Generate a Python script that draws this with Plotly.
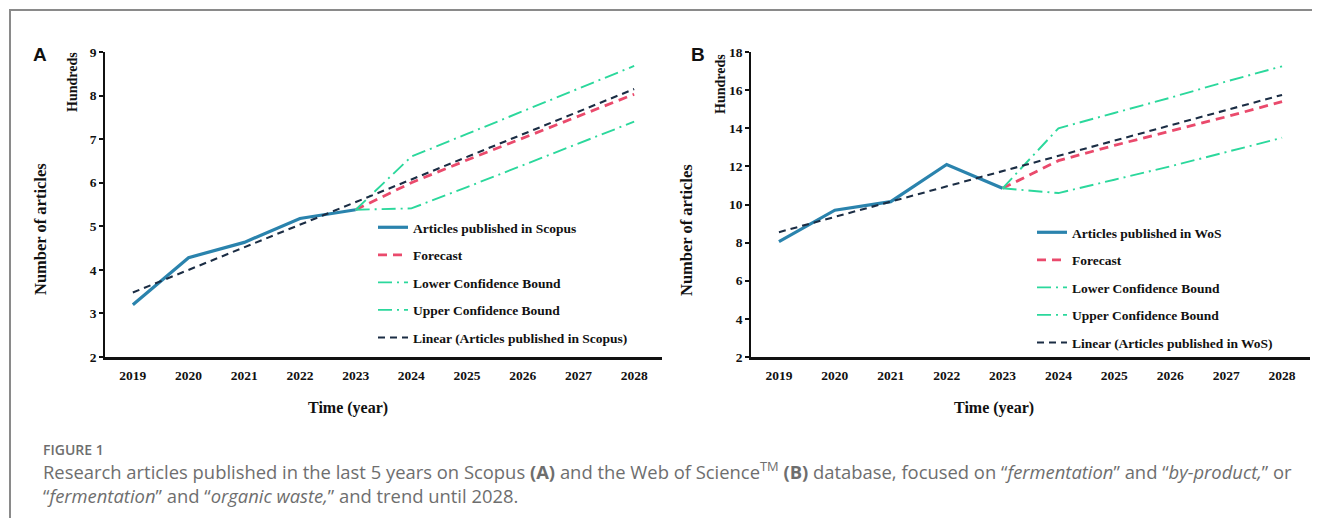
import plotly.graph_objects as go

years = [2019, 2020, 2021, 2022, 2023, 2024, 2025, 2026, 2027, 2028]
hist_years = [2019, 2020, 2021, 2022, 2023]
fc_years = [2023, 2024, 2025, 2026, 2027, 2028]

# Panel A - Scopus (hundreds of articles)
scopus_actual = [3.20, 4.28, 4.63, 5.18, 5.38]
scopus_forecast = [5.38, 6.00, 6.52, 7.02, 7.53, 8.03]
scopus_lower = [5.38, 5.41, 5.90, 6.40, 6.90, 7.40]
scopus_upper = [5.38, 6.60, 7.12, 7.64, 8.16, 8.68]
scopus_linear = [3.48, 4.00, 4.52, 5.04, 5.56, 6.08, 6.60, 7.11, 7.63, 8.15]

# Panel B - WoS (hundreds of articles)
wos_actual = [8.05, 9.70, 10.15, 12.10, 10.85]
wos_forecast = [10.85, 12.30, 13.10, 13.85, 14.60, 15.40]
wos_lower = [10.85, 10.60, 11.30, 12.00, 12.75, 13.50]
wos_upper = [10.85, 14.00, 14.80, 15.60, 16.45, 17.25]
wos_linear = [8.55, 9.35, 10.15, 10.95, 11.75, 12.55, 13.35, 14.15, 14.95, 15.75]

OFF = 8  # default page body margin
W, H = 1320 - 2 * OFF, 526 - 2 * OFF
BLUE = "#2a83ad"
PINK = "#ea4a6c"
GREEN = "#2bd89c"
NAVY = "#1b2d44"
SERIF = "Liberation Serif"
CAPFONT = "Open Sans"

def px(x):
    return (x - OFF) / W

def py(y):
    return 1 - (y - OFF) / H

fig = go.Figure()

def add_panel(xa, ya, leg, src, actual, fc, lo, up, lin):
    fig.add_trace(go.Scatter(x=hist_years, y=actual, mode="lines", name=f"Articles published in {src}",
                             line=dict(color=BLUE, width=3.2), xaxis=xa, yaxis=ya, legend=leg, legendgroup=leg + "1"))
    fig.add_trace(go.Scatter(x=fc_years, y=fc, mode="lines", name="Forecast",
                             line=dict(color=PINK, width=2.8, dash="9px,6px"), xaxis=xa, yaxis=ya, legend=leg, legendgroup=leg + "2"))
    fig.add_trace(go.Scatter(x=fc_years, y=lo, mode="lines", name="Lower Confidence Bound",
                             line=dict(color=GREEN, width=1.9, dash="14px,5px,2px,5px"), xaxis=xa, yaxis=ya, legend=leg, legendgroup=leg + "3"))
    fig.add_trace(go.Scatter(x=fc_years, y=up, mode="lines", name="Upper Confidence Bound",
                             line=dict(color=GREEN, width=1.9, dash="14px,5px,2px,5px"), xaxis=xa, yaxis=ya, legend=leg, legendgroup=leg + "4"))
    fig.add_trace(go.Scatter(x=years, y=lin, mode="lines", name=f"Linear (Articles published in {src})",
                             line=dict(color=NAVY, width=2.1, dash="7px,5px"), xaxis=xa, yaxis=ya, legend=leg, legendgroup=leg + "5"))

add_panel("x", "y", "legend", "Scopus", scopus_actual, scopus_forecast, scopus_lower, scopus_upper, scopus_linear)
add_panel("x2", "y2", "legend2", "WoS", wos_actual, wos_forecast, wos_lower, wos_upper, wos_linear)

tickfont = dict(family=SERIF, size=13.5, color="#111", weight="bold")
xcommon = dict(range=[2018.5, 2028.5], tickmode="array", tickvals=years, ticktext=[str(y) for y in years],
               showline=True, linecolor="#111", linewidth=2.5, ticks="", showgrid=False, zeroline=False,
               tickfont=tickfont, ticklabelstandoff=4, fixedrange=True, automargin=False)
ycommon = dict(showline=True, linecolor="#111", linewidth=1.8, ticks="outside", ticklen=4, tickwidth=1.5,
               tickcolor="#111", showgrid=False, zeroline=False, tickfont=tickfont, fixedrange=True, automargin=False)

ydom = [py(357), py(52)]
legfont = dict(family=SERIF, size=13.5, color="#111", weight="bold")
fig.update_layout(
    width=W, height=H, margin=dict(l=0, r=0, t=0, b=0, autoexpand=False),
    paper_bgcolor="white", plot_bgcolor="white",
    xaxis=dict(domain=[px(105), px(662)], anchor="y", **xcommon),
    yaxis=dict(domain=ydom, anchor="x", range=[2, 9], dtick=1, **ycommon),
    xaxis2=dict(domain=[px(751), px(1310)], anchor="y2", **xcommon),
    yaxis2=dict(domain=ydom, anchor="x2", range=[2, 18], dtick=2, **ycommon),
    legend=dict(x=px(373), y=py(212), xanchor="left", yanchor="top", font=legfont, bgcolor="rgba(0,0,0,0)",
                tracegroupgap=7, itemwidth=30),
    legend2=dict(x=px(1032), y=py(217), xanchor="left", yanchor="top", font=legfont, bgcolor="rgba(0,0,0,0)",
                 tracegroupgap=7, itemwidth=30),
    showlegend=True,
)

ann = []
def t(x, y, text, size, family=SERIF, weight="bold", color="#111", angle=0, xanchor="center", align="center"):
    ann.append(dict(x=px(x), y=py(y), xref="paper", yref="paper", text=text, showarrow=False, textangle=angle,
                    xanchor=xanchor, yanchor="middle", align=align,
                    font=dict(family=family, size=size, color=color, weight=weight)))

# panel letters
t(40, 54, "A", 19, family="Liberation Sans")
t(698, 54, "B", 19, family="Liberation Sans")
# Hundreds
t(72, 82, "Hundreds", 14, angle=-90)
t(720, 84, "Hundreds", 14, angle=-90)
# y titles
t(40, 229, "Number of articles", 16.5, angle=-90)
t(686, 230, "Number of articles", 16.5, angle=-90)
# x titles
t(348, 408, "Time (year)", 16)
t(994, 408, "Time (year)", 16)
# caption
t(41, 449, "FIGURE 1", 14, family=CAPFONT, weight=600, color="#6e6e6e", xanchor="left")
t(41, 482, "Research articles published in the last 5 years on Scopus <b>(A)</b> and the Web of Science<sup>TM</sup> <b>(B)</b> database, focused on “<i>fermentation</i>” and “<i>by-product,</i>” or"
  "<br>“<i>fermentation</i>” and “<i>organic waste,</i>” and trend until 2028.",
  18.4, family=CAPFONT, weight="normal", color="#6e6e6e", xanchor="left", align="left")
fig.update_layout(annotations=ann)

# frame (top and left edges)
fig.add_shape(type="line", xref="paper", yref="paper", x0=px(9), y0=py(10), x1=px(1330), y1=py(10),
              line=dict(color="#8a8a8a", width=2), layer="below")
fig.add_shape(type="line", xref="paper", yref="paper", x0=px(10), y0=py(9), x1=px(10), y1=py(540),
              line=dict(color="#8a8a8a", width=2), layer="below")

fig.write_html("out.html")
